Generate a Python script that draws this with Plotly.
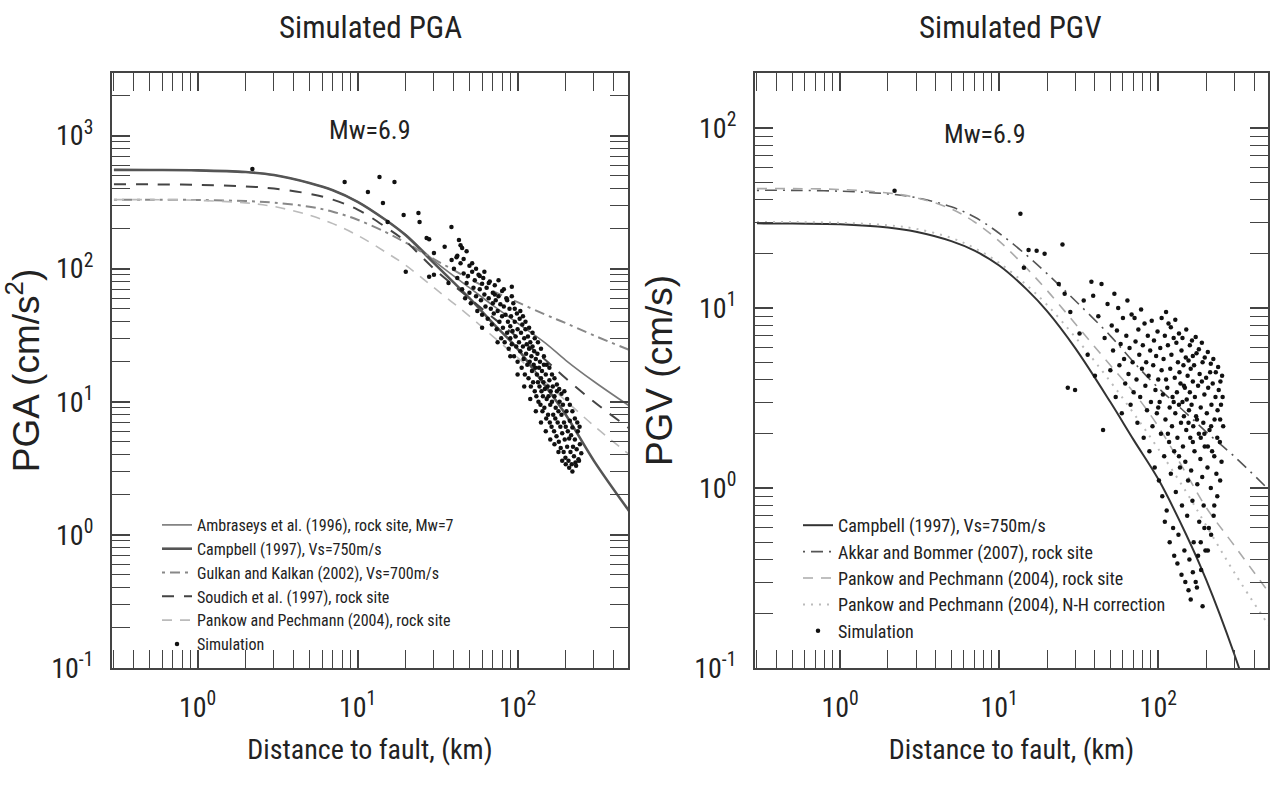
import plotly.graph_objects as go

FONT = "Liberation Sans Narrow, Arial Narrow, Roboto Condensed, DejaVu Sans Condensed, sans-serif"
FONT_WIDE = "Liberation Sans, Arial, sans-serif"

# ---------------- data ----------------
dist_km = [0.3, 0.5, 1, 2, 3, 5, 7, 10, 15, 20, 30, 50, 70, 100, 150, 200, 300, 500]

# PGA (cm/s^2)
pga_ambraseys = [552, 551, 548, 532, 505, 440, 388, 318, 232, 180, 115, 72, 53, 39, 27.5, 20.5, 14.2, 9.3]
pga_campbell = [552, 551, 548, 532, 505, 440, 388, 318, 232, 178, 110, 60, 39, 25, 13, 8, 3.6, 1.5]
pga_gulkan = [330, 330, 328, 322, 313, 292, 268, 233, 188, 157, 118, 84, 68, 56, 45, 39, 31.5, 24.5]
pga_spudich = [430, 430, 426, 415, 400, 365, 330, 278, 205, 160, 100, 60, 43, 30.5, 20.5, 15, 10, 6.3]
pga_pankow = [330, 330, 326, 312, 293, 252, 218, 178, 133, 106, 72, 44, 31, 21.5, 14, 10.2, 6.6, 4.0]

# PGV (cm/s)
pgv_campbell = [29.5, 29.4, 29.2, 28, 26.5, 23.5, 20.8, 17.2, 12.6, 9.6, 6.0, 3.0, 1.85, 1.12, 0.55, 0.31, 0.12, 0.03]
pgv_akkar = [45, 45, 44.5, 43, 41, 36.5, 32, 26, 19.5, 15.5, 11, 7.0, 5.0, 3.6, 2.6, 2.05, 1.5, 0.97]
pgv_pankow_rock = [46, 46, 45.5, 43.5, 41, 35.5, 30, 23.5, 16.5, 12.5, 8.2, 4.8, 3.4, 2.2, 1.2, 0.78, 0.48, 0.26]
pgv_pankow_nh = [30, 30, 29.7, 28.8, 27.5, 24.5, 21.5, 17.8, 13.3, 10.4, 6.9, 3.9, 2.6, 1.65, 0.95, 0.62, 0.34, 0.17]

# Simulation points, PGA
sim_pga_dist = [2.2, 8.3, 11.6, 13.7, 17, 14.4, 15.4, 19.4, 24, 24.4, 38.6, 27, 28, 43, 45, 35, 30, 41.5, 38.7, 28, 30, 37, 92, 20,
                40, 42, 44, 45, 46, 47, 48, 50, 50, 49,
                51, 52, 53, 54, 55, 56, 57, 58, 59, 60, 60,
                61, 62, 63, 64, 65, 66, 67, 68, 69, 70, 70,
                71, 72, 73, 74, 75, 76, 77, 78, 79, 80, 80,
                81, 82, 83, 84, 85, 86, 87, 88, 89, 90, 90,
                91, 92, 93, 94, 95, 96, 97, 98, 99, 100, 100,
                102, 103, 104, 105, 106, 107, 108, 109, 110, 111, 112, 113, 114, 115,
                116, 117, 118, 119, 120, 121, 122, 123, 124, 125, 126, 127, 128, 129, 130,
                131, 132, 133, 134, 135, 136, 137, 138, 139, 140, 141, 142, 143, 144, 145,
                146, 147, 148, 150, 151, 152, 154, 155, 156, 158, 159, 160, 161, 163, 164,
                166, 167, 169, 170, 172, 173, 175, 176, 178, 180, 181, 183, 185, 186, 188,
                190, 192, 194, 195, 197, 199, 200, 202, 204, 206, 208, 210, 212, 214,
                216, 218, 220, 222, 225, 228, 230, 234, 238, 240, 245, 250,
                42, 44, 46, 48, 52, 55, 58, 62, 66, 72, 76, 82, 86, 92, 96, 104, 108, 112, 118, 124,
                128, 134, 140, 146, 152, 158, 164, 170, 176, 182, 188, 196, 204, 212, 220, 228, 236, 244,
                60, 75, 90, 100, 110, 120, 130, 140, 150, 160, 170, 180, 190, 200, 210, 220, 232, 242]
sim_pga_val = [560, 448, 377, 489, 448, 312, 224, 253, 262, 224, 206, 170, 166, 164, 143, 146, 131, 122, 116, 87, 90, 78, 73, 95,
               100, 85, 110, 70, 92, 60, 78, 105, 66, 88,
               55, 95, 72, 82, 62, 48, 90, 70, 58, 77, 45,
               85, 64, 52, 72, 42, 60, 80, 50, 38, 66, 55,
               46, 75, 58, 35, 48, 62, 40, 54, 30, 44, 68,
               36, 52, 28, 45, 60, 33, 40, 25, 50, 37, 30,
               44, 27, 34, 55, 22, 40, 31, 26, 46, 35, 20,
               28, 42, 24, 33, 18, 38, 26, 21, 30, 16, 35, 23, 27, 19,
               31, 15, 25, 20, 28, 13, 22, 17, 26, 14, 19, 24, 12, 18, 21,
               11, 16, 23, 14, 10, 18, 13, 20, 9.5, 15, 12, 17, 8.5, 11, 14,
               19, 9, 12.5, 16, 7.5, 10.5, 13, 8, 11, 14.5, 7, 9.5, 12, 6.5, 10,
               13, 8, 6, 11, 7.5, 9, 5.5, 12, 7, 8.5, 5, 10, 6.5, 4.5, 8,
               5.8, 9.5, 4.2, 7, 5.2, 3.8, 6.5, 8.5, 4.6, 6, 3.6, 5.3, 7.2, 4.2,
               5.6, 3.4, 6.4, 4.6, 3.9, 5.2, 3.5, 4.4, 6, 3.7, 4.8, 4.1,
               125, 150, 118, 135, 110, 100, 88, 95, 78, 64, 82, 70, 58, 62, 50, 48, 44, 40, 36, 33,
               30, 28, 25, 22, 19, 18, 16, 15, 13.5, 12.5, 11.5, 12, 10.5, 9.5, 8.5, 7.5, 7, 6.5,
               36, 28, 22, 16, 13, 10.5, 8.5, 7, 6, 5.2, 4.8, 4.2, 3.6, 3.4, 3.2, 3.0, 3.3, 3.6]

# Simulation points, PGV
sim_pgv_dist = [2.2, 13.6, 25, 15.3, 17.2, 19.3, 14.3, 23.7, 25.8,
                27, 30, 28, 32, 34, 36, 38, 39, 40,
                42, 44, 45, 46, 48, 50, 51, 52, 53, 54, 55,
                56, 57, 58, 59, 60, 61, 62, 63, 64, 65, 66, 67, 68, 69, 70,
                71, 72, 73, 74, 75, 76, 77, 78, 79, 80, 81, 82, 83, 84, 85,
                86, 87, 88, 89, 90, 91, 92, 93, 94, 95, 96, 97, 98, 99, 100,
                101, 102, 103, 104, 105, 106, 107, 108, 109, 110, 111, 112, 113, 114, 115,
                116, 117, 118, 119, 120, 121, 122, 123, 124, 125, 126, 127, 128, 129, 130,
                131, 132, 133, 134, 135, 136, 137, 138, 139, 140, 141, 142, 143, 144, 145,
                146, 147, 148, 149, 150, 151, 152, 153, 154, 155, 156, 157, 158, 159, 160,
                161, 162, 163, 164, 165, 166, 167, 168, 169, 170, 172, 173, 174, 176, 178,
                180, 181, 182, 184, 185, 186, 188, 189, 190, 192, 193, 195, 196, 198, 200,
                202, 204, 206, 208, 210, 212, 214, 216, 218, 220, 223, 226, 229, 232, 236, 240, 244, 248, 252, 256,
                160, 190, 175,
                105, 112, 120, 128, 135, 142, 150, 158, 165, 172, 180, 188, 196, 205, 214, 222, 230, 238, 246, 254,
                110, 118, 126, 132, 140, 148, 155, 165, 178, 185, 195, 205, 215, 225, 235, 245, 250,
                100, 115, 125, 135, 145, 155, 165, 175, 185, 195, 205, 215, 225, 235, 245]
sim_pgv_val = [44.8, 33.4, 22.5, 21, 20.8, 20, 16.7, 13.6, 12,
               3.6, 3.5, 9.5, 7.2, 11, 5.5, 14, 11.7, 4.2,
               9, 13.6, 2.1, 6.8, 10.5, 4.5, 8, 5.8, 12, 3.2, 7.5,
               10, 4.8, 6.3, 2.6, 8.8, 5.2, 3.8, 7, 11, 4.3, 6, 2.9, 9.2, 5, 3.4,
               8.8, 6.5, 4, 2.3, 7.6, 5.5, 3.2, 9.8, 4.6, 6.2, 1.9, 8.2, 3.7, 5, 2.7,
               7, 4.2, 1.6, 5.8, 3, 8.5, 2.2, 4.8, 6.6, 1.3, 3.5, 5.4, 2.6, 7.4, 4,
               1.1, 3, 6, 2, 4.5, 0.9, 3.3, 5.2, 1.5, 7, 2.4, 4, 0.75, 3.6, 6.2,
               8.2, 1.8, 2.8, 4.6, 1.2, 5.5, 2.2, 3.2, 0.6, 6.8, 1.6, 4.1, 2.6, 0.95, 6.4,
               3.4, 1.9, 5, 0.55, 2.9, 4.4, 1.3, 3.8, 2.3, 5.8, 0.8, 3, 1.7, 4.8, 2.5,
               0.45, 3.6, 1.4, 5.3, 2.1, 3.1, 0.7, 4.2, 1.1, 5.1, 2.7, 0.4, 3.4, 1.9, 4.6,
               1.25, 2.9, 6.6, 0.85, 3.9, 2.2, 0.5, 4.8, 1.6, 3.2, 0.3, 2.5, 5.6, 1.05, 3.7,
               2, 0.65, 4.3, 1.45, 2.8, 0.35, 3.9, 1.15, 5, 2.3, 0.8, 3.3, 1.7, 0.45, 4.1,
               2.6, 1.3, 3.6, 0.6, 2.1, 4.4, 1, 2.9, 1.6, 3.8, 0.7, 2.4, 3.2, 1.2, 2.7, 3.5, 1.8, 2.9, 4.2, 2.2,
               0.24, 0.22, 0.28,
               8.8, 9.5, 7.8, 8.6, 7.2, 6.8, 7.6, 6.2, 5.4, 6.9, 5.9, 6.4, 5.3, 5.7, 4.9, 5.2, 4.4, 4.7, 3.9, 3.2,
               0.65, 0.5, 0.42, 0.38, 0.33, 0.3, 0.27, 0.34, 0.42, 0.5, 0.6, 0.45, 0.55, 0.8, 0.9, 1.1, 1.4,
               2.8, 2.0, 3.0, 1.5, 3.7, 2.3, 1.8, 2.4, 1.9, 2.0, 1.7, 2.2, 1.5, 1.9, 2.4]

y_tick_vals_pga = [0.1, 1, 10, 100, 1000]
y_tick_text_pga = ["10<sup>-1</sup>", "10<sup>0</sup>", "10<sup>1</sup>", "10<sup>2</sup>", "10<sup>3</sup>"]
y_tick_vals_pgv = [0.1, 1, 10, 100]
y_tick_text_pgv = ["10<sup>-1</sup>", "10<sup>0</sup>", "10<sup>1</sup>", "10<sup>2</sup>"]
x_tick_vals = [1, 10, 100]
x_tick_text = ["10<sup>0</sup>", "10<sup>1</sup>", "10<sup>2</sup>"]

W, H = 1271, 788
AX = "#444"
TXT = "#222"

fig = go.Figure()

# ---- left panel: PGA ----
left_traces = [
    ("Ambraseys et al. (1996), rock site, Mw=7", pga_ambraseys, dict(color="#777", width=1.6, dash="solid")),
    ("Campbell (1997), Vs=750m/s", pga_campbell, dict(color="#555", width=2.6, dash="solid")),
    ("Gulkan and Kalkan (2002), Vs=700m/s", pga_gulkan, dict(color="#888", width=2, dash="3px,5px,10px,5px")),
    ("Soudich et al. (1997), rock site", pga_spudich, dict(color="#444", width=2, dash="12px,10px")),
    ("Pankow and Pechmann (2004), rock site", pga_pankow, dict(color="#bbb", width=1.6, dash="10px,8px")),
]
for i, (name, vals, line) in enumerate(left_traces):
    fig.add_trace(go.Scatter(x=dist_km, y=vals, mode="lines", name=name, line=line,
                             line_shape="spline", xaxis="x", yaxis="y", legend="legend",
                             legendgroup=f"L{i}"))
fig.add_trace(go.Scatter(x=sim_pga_dist, y=sim_pga_val, mode="markers", name="Simulation",
                         marker=dict(color="#111", size=4.5), xaxis="x", yaxis="y", legend="legend",
                         legendgroup="L5"))

# ---- right panel: PGV ----
right_traces = [
    ("Campbell (1997), Vs=750m/s", pgv_campbell, dict(color="#333", width=2, dash="solid")),
    ("Akkar and Bommer (2007), rock site", pgv_akkar, dict(color="#555", width=1.6, dash="2px,6px,12px,6px")),
    ("Pankow and Pechmann (2004), rock site", pgv_pankow_rock, dict(color="#aaa", width=1.6, dash="10px,8px")),
    ("Pankow and Pechmann (2004), N-H correction", pgv_pankow_nh, dict(color="#bbb", width=2, dash="2px,6px")),
]
for i, (name, vals, line) in enumerate(right_traces):
    fig.add_trace(go.Scatter(x=dist_km, y=vals, mode="lines", name=name, line=line,
                             line_shape="spline", xaxis="x2", yaxis="y2", legend="legend2",
                             legendgroup=f"R{i}"))
fig.add_trace(go.Scatter(x=sim_pgv_dist, y=sim_pgv_val, mode="markers", name="Simulation",
                         marker=dict(color="#111", size=4.5), xaxis="x2", yaxis="y2", legend="legend2",
                         legendgroup="R4"))

# invisible anchors so the label-only overlay axes get drawn
for xa, ya, yv in (("x3", "y", y_tick_vals_pga), ("x", "y3", y_tick_vals_pga),
                   ("x4", "y2", y_tick_vals_pgv), ("x2", "y4", y_tick_vals_pgv)):
    fig.add_trace(go.Scatter(x=x_tick_vals[:1], y=yv[1:2], xaxis=xa, yaxis=ya, mode="markers",
                             marker=dict(opacity=0, size=1), showlegend=False, hoverinfo="skip"))

ydom = [1 - 668 / H, 1 - 73 / H]
xdom1 = [112 / W, 628 / W]
xdom2 = [755 / W, 1268 / W]
xr = [-0.535, 2.69]
yr_pga = [-1.0, 3.47]
yr_pgv = [-1.0, 2.305]


def frame_axis(domain, rng, anchor):
    # frame + inside major/minor ticks (labels drawn by the overlay axes)
    return dict(type="log", domain=domain, range=rng, anchor=anchor, dtick=1,
                ticks="inside", ticklen=18, tickwidth=2, tickcolor=AX,
                minor=dict(ticks="inside", ticklen=10, tickwidth=1, tickcolor=AX, dtick="D1"),
                showline=True, linewidth=2, linecolor=AX, mirror="allticks",
                showgrid=False, zeroline=False, showticklabels=False, automargin=False)


def label_axis(rng, overlay, anchor, side, tickvals, ticktext, title, title_font, pad, standoff):
    return dict(type="log", range=rng, overlaying=overlay, anchor=anchor, side=side,
                tickmode="array", tickvals=tickvals, ticktext=ticktext,
                ticks="outside", ticklen=pad, tickcolor="rgba(0,0,0,0)",
                showline=False, showgrid=False, zeroline=False, automargin=False,
                tickfont=dict(size=28, family=FONT, color=TXT),
                title=dict(text=title, font=title_font, standoff=standoff))


xfont = dict(size=28, family=FONT, color=TXT)
yfont = dict(size=37, family=FONT_WIDE, color=TXT)

layout_axes = dict(
    xaxis=frame_axis(xdom1, xr, "y"),
    yaxis=frame_axis(ydom, yr_pga, "x"),
    xaxis2=frame_axis(xdom2, xr, "y2"),
    yaxis2=frame_axis(ydom, yr_pgv, "x2"),
    xaxis3=label_axis(xr, "x", "y", "bottom", x_tick_vals, x_tick_text, "Distance to fault, (km)", xfont, 14, 16),
    yaxis3=label_axis(yr_pga, "y", "x", "left", y_tick_vals_pga, y_tick_text_pga, "PGA (cm/s<sup>2</sup>)", yfont, 12, 10),
    xaxis4=label_axis(xr, "x2", "y2", "bottom", x_tick_vals, x_tick_text, "Distance to fault, (km)", xfont, 14, 16),
    yaxis4=label_axis(yr_pgv, "y2", "x2", "left", y_tick_vals_pgv, y_tick_text_pgv, "PGV (cm/s)", yfont, 12, 10),
)

legend_common = dict(bgcolor="rgba(0,0,0,0)", borderwidth=0, xanchor="left", yanchor="top",
                     traceorder="grouped", itemwidth=30, tracegroupgap=0)

fig.update_layout(
    width=W, height=H,
    margin=dict(l=0, r=0, t=0, b=0, autoexpand=False),
    paper_bgcolor="white", plot_bgcolor="white",
    legend=dict(x=157 / W, y=1 - 508 / H, font=dict(size=16, family=FONT, color=TXT), **legend_common),
    legend2=dict(x=798 / W, y=1 - 507 / H, font=dict(size=18, family=FONT, color=TXT), **legend_common),
    annotations=[
        dict(text="Simulated PGA", x=370 / W, y=1 - 28 / H, xref="paper", yref="paper",
             xanchor="center", yanchor="middle", showarrow=False,
             font=dict(size=31, family=FONT, color=TXT)),
        dict(text="Simulated PGV", x=1010 / W, y=1 - 28 / H, xref="paper", yref="paper",
             xanchor="center", yanchor="middle", showarrow=False,
             font=dict(size=31, family=FONT, color=TXT)),
        dict(text="Mw=6.9", x=370 / W, y=1 - 130 / H, xref="paper", yref="paper",
             xanchor="center", yanchor="middle", showarrow=False,
             font=dict(size=26, family=FONT, color=TXT)),
        dict(text="Mw=6.9", x=985 / W, y=1 - 134 / H, xref="paper", yref="paper",
             xanchor="center", yanchor="middle", showarrow=False,
             font=dict(size=26, family=FONT, color=TXT)),
    ],
    showlegend=True,
    **layout_axes,
)

fig.write_html("out.html", config={"displayModeBar": False},
               post_script="document.body.style.margin='0px';")
